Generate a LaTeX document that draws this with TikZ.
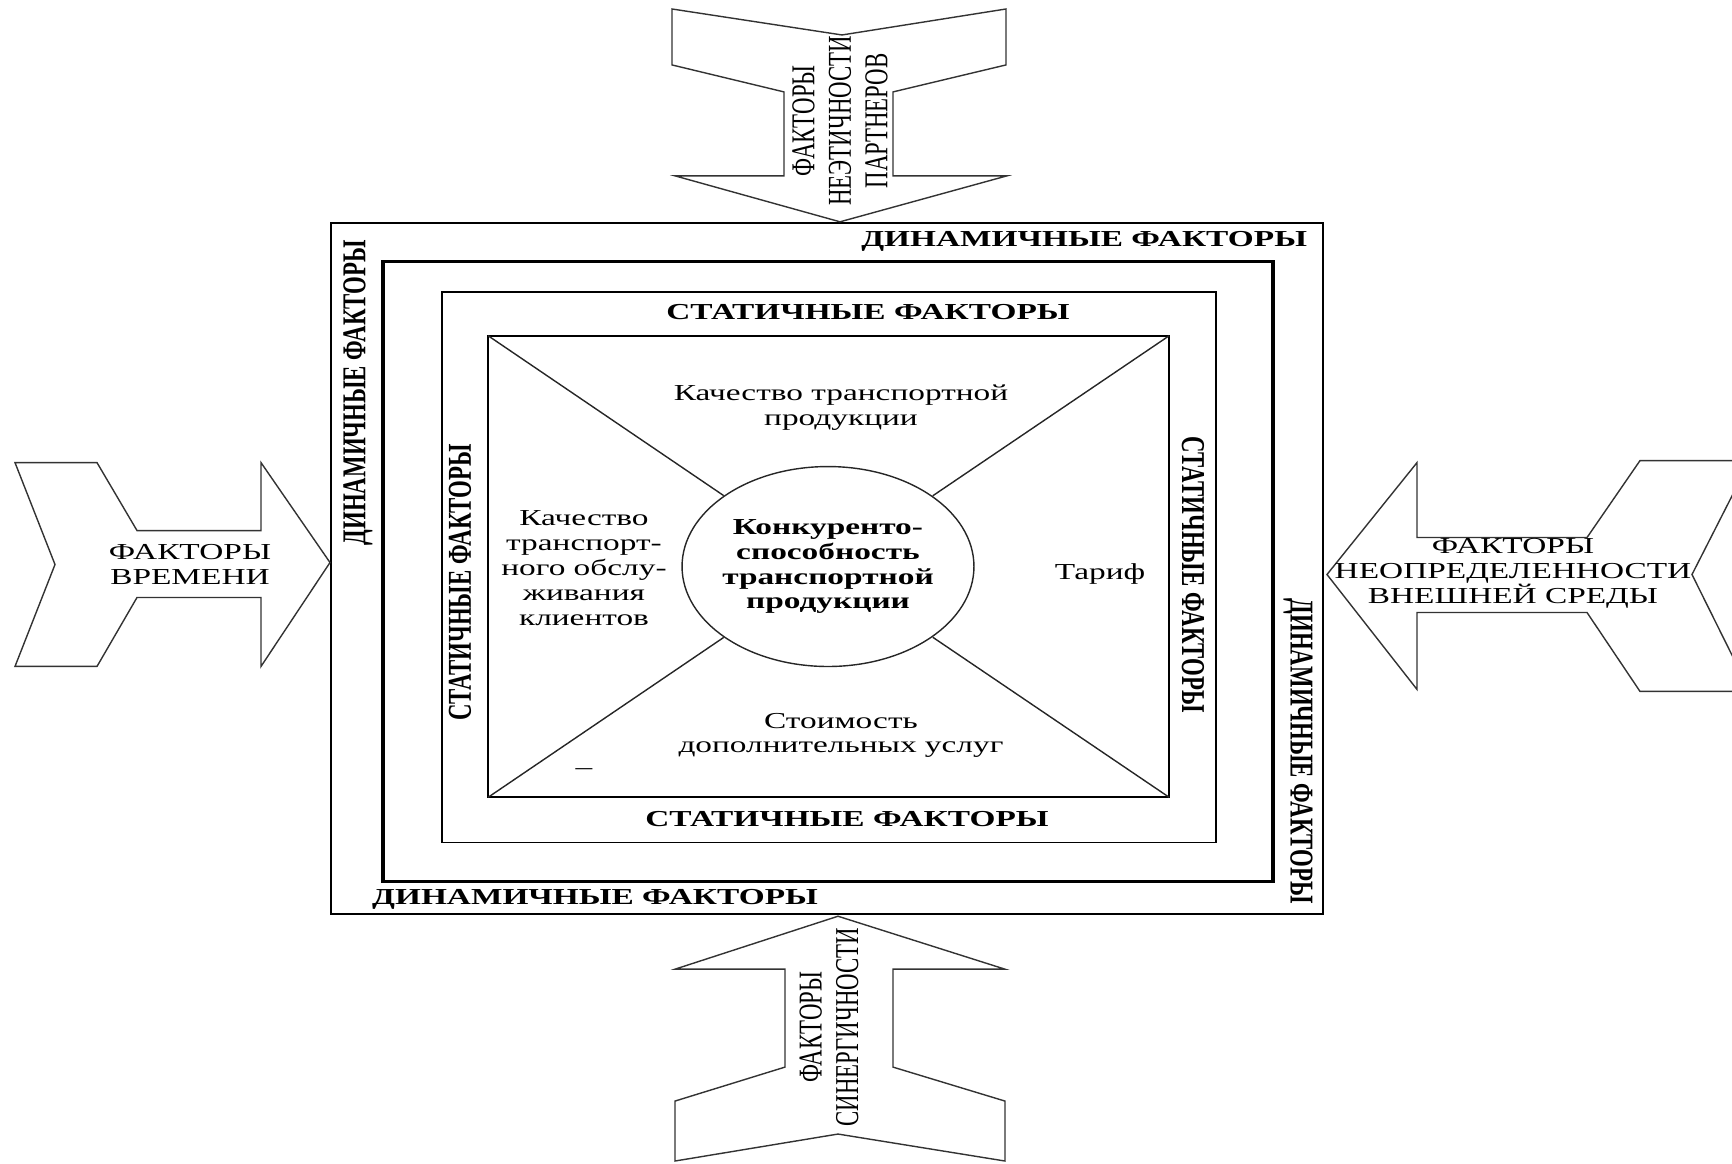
\documentclass[tikz,border=0pt]{standalone}
\usepackage{fontspec}
\setmainfont{Liberation Serif}

\begin{document}
\begin{tikzpicture}[x=0.00685cm, y=-0.01cm, xscale=1.46,
    every node/.style={transform shape, inner sep=0pt, align=center, font=\fontsize{6.5}{7.1}\selectfont},
    bold/.style={font=\fontsize{6.5}{7.1}\selectfont\bfseries},
    blockarrow/.style={draw=black!80, line width=0.4pt},
    thin/.style={draw=black!85, line width=0.4pt}]
    \clip (0,0) rectangle (1732,1164);

    \draw[line width=0.6pt] (331,223) rectangle (1323,915);
    \draw[line width=0.9pt] (383,262) rectangle (1273,882);
    \draw[line width=0.45pt] (442,292) rectangle (1216,843);
    \draw[line width=0.55pt] (488,336) rectangle (1169,798);

    \coordinate (nw) at (488,336);
    \coordinate (ne) at (1169,336);
    \coordinate (sw) at (488,798);
    \coordinate (se) at (1169,798);

    \node[circle, thin, minimum size=2cm, bold] (comp) at (828,567) {Конкуренто-\\способность\\транспортной\\продукции};
    \draw[thin] (nw) -- (comp);
    \draw[thin] (ne) -- (comp);
    \draw[thin] (sw) -- (comp);
    \draw[thin] (se) -- (comp);

    \node (qprod) at (841,408) {Качество транспортной\\продукции};
    \node (qserv) at (584,569) {Качество\\транспорт-\\ного обслу-\\живания\\клиентов};
    \node (tarif) at (1100,574) {Тариф};
    \node (cost) at (841,736) {Стоимость\\дополнительных услуг};
    \node (dash) at (584,772) {--};

    \node[bold, anchor=east] (dyn1) at (1308,242) {ДИНАМИЧНЫЕ ФАКТОРЫ};
    \node[bold, rotate=90] (dyn2) at (358,393) {ДИНАМИЧНЫЕ ФАКТОРЫ};
    \node[bold] (dyn3) at (595,900) {ДИНАМИЧНЫЕ ФАКТОРЫ};
    \node[bold, rotate=-90] (dyn4) at (1298,752) {ДИНАМИЧНЫЕ ФАКТОРЫ};

    \node[bold] (stat1) at (868,312) {СТАТИЧНЫЕ ФАКТОРЫ};
    \node[bold, rotate=90] (stat2) at (460,583) {СТАТИЧНЫЕ ФАКТОРЫ};
    \node[bold] (stat3) at (847,820) {СТАТИЧНЫЕ ФАКТОРЫ};
    \node[bold, rotate=-90] (stat4) at (1193,575) {СТАТИЧНЫЕ ФАКТОРЫ};

    \draw[blockarrow] (672,9) -- (842,35) -- (1006,9) -- (1006,65) -- (893,92) -- (893,176) -- (1007,176)
        -- (840,222) -- (675,176) -- (784,176) -- (784,92) -- (672,65) -- cycle;
    \draw[blockarrow] (15,463) -- (97,463) -- (137,531) -- (261,531) -- (261,463) -- (330,563) -- (261,667)
        -- (261,598) -- (137,598) -- (97,667) -- (15,667) -- (55,565) -- cycle;
    \draw[blockarrow] (1327,575) -- (1417,463) -- (1417,538) -- (1587,538) -- (1640,461) -- (1750,461)
        -- (1692,575) -- (1750,692) -- (1640,692) -- (1587,613) -- (1417,613) -- (1417,690) -- cycle;
    \draw[blockarrow] (838,917) -- (1005,970) -- (893,970) -- (893,1068) -- (1005,1102) -- (1005,1162)
        -- (838,1135) -- (675,1162) -- (675,1102) -- (785,1068) -- (785,970) -- (675,970) -- cycle;

    \node[rotate=90] (partn) at (840,121) {ФАКТОРЫ\\НЕЭТИЧНОСТИ\\ПАРТНЕРОВ};
    \node (time) at (190,565) {ФАКТОРЫ\\ВРЕМЕНИ};
    \node (envir) at (1513,574) {ФАКТОРЫ\\НЕОПРЕДЕЛЕННОСТИ\\ВНЕШНЕЙ СРЕДЫ};
    \node[rotate=90] (syner) at (829,1028) {ФАКТОРЫ\\СИНЕРГИЧНОСТИ};
\end{tikzpicture}
\end{document}
